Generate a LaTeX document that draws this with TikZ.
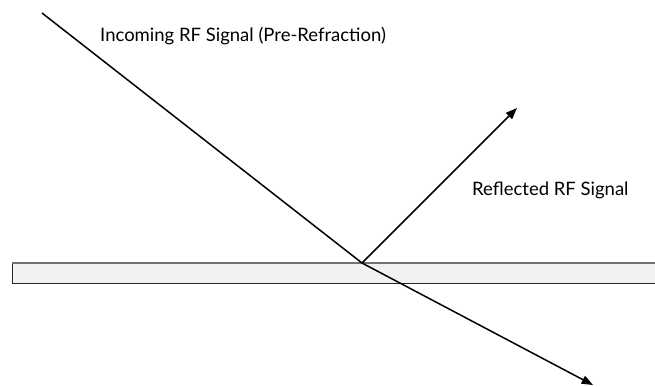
\documentclass[tikz,border=0pt]{standalone}
\usepackage{fontspec}
\setmainfont{Lato}
\usepackage{tikz}
\usetikzlibrary{arrows.meta,calc,positioning}
\tikzset{
  ray line/.style={line width=1.5pt,black},
  ray arrow/.style={-{Triangle[length=4mm,width=3mm]},line width=1.5pt,black},
  slab body/.style={fill=black!5,draw=black!85,line width=1pt},
  slab top/.style={draw=black!55,line width=1.2pt},
  ray label/.style={font=\fontsize{18.5}{22}\selectfont,anchor=west,inner sep=0pt}
}
\begin{document}
\begin{tikzpicture}[x=1pt,y=-1pt]
    \useasboundingbox (0,0) rectangle (655,386);
    \coordinate (slabnw) at (12,263);
    \coordinate (slabse) at (662,283);
    \coordinate (slabne) at (662,263);
    \coordinate (incomingstart) at (42,13);
    \coordinate (hitpoint) at (362,263);
    \coordinate (reflectedend) at (517,108);
    \coordinate (refractedend) at (593,385);
    \draw[slab body] (slabnw) rectangle (slabse);
    \draw[slab top] (slabnw) -- (slabne);
    \draw[ray line] (incomingstart) -- (hitpoint);
    \draw[ray arrow] (hitpoint) -- (reflectedend);
    \draw[ray arrow] (hitpoint) -- (refractedend);
    \node[ray label] (incominglabel) at (100,36) {Incoming RF Signal (Pre-Refraction)};
    \node[ray label] (reflectedlabel) at (472,190) {Reflected RF Signal};
  \end{tikzpicture}
\end{document}
